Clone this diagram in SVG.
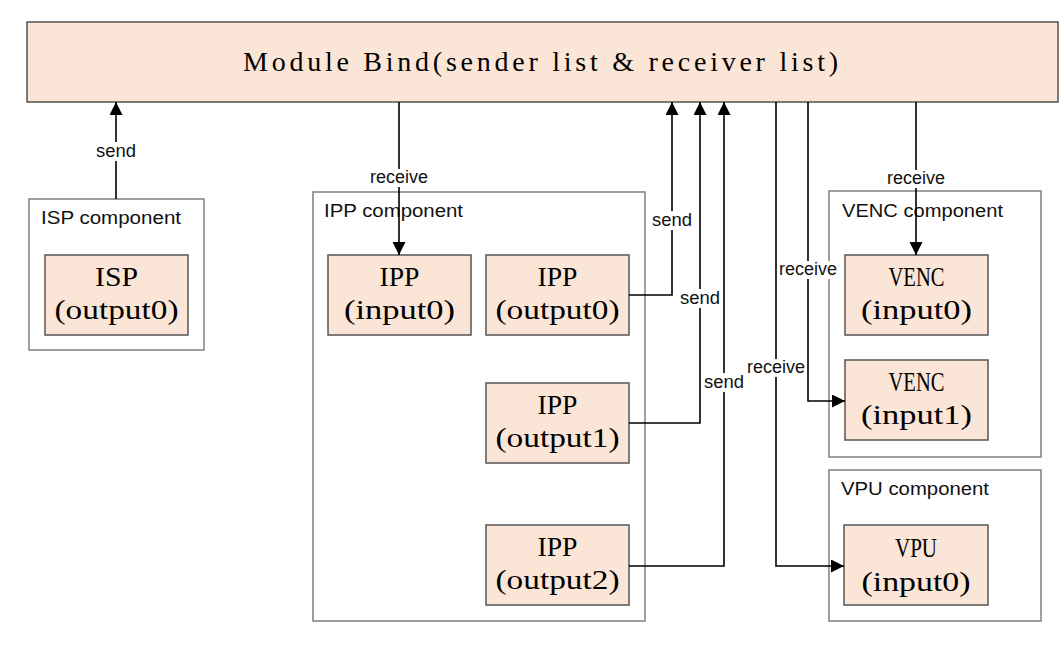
<svg xmlns="http://www.w3.org/2000/svg" width="1064" height="646" viewBox="0 0 1064 646">
<defs>
<marker id="arr" markerUnits="userSpaceOnUse" markerWidth="14" markerHeight="14" refX="13" refY="6.5" orient="auto">
<path d="M0,0 L13,6.5 L0,13 Z" fill="#000"/>
</marker>
<style>
.bind{fill:#FBE5D6;stroke:#3a3a3a;stroke-width:1.3}
.comp{fill:#fff;stroke:#808080;stroke-width:1.5}
.node{fill:#FBE5D6;stroke:#555;stroke-width:1.5}
.ct{font-family:"Liberation Sans",Arial,sans-serif;font-size:18px;fill:#111}
.nt{font-family:"Liberation Serif","Times New Roman",serif;font-size:27px;fill:#000;text-anchor:middle}
.tt{font-family:"Liberation Serif","Times New Roman",serif;font-size:28px;fill:#000;text-anchor:middle}
.lbl{font-family:"Liberation Sans",Arial,sans-serif;font-size:17.5px;fill:#111;text-anchor:middle}
.ln{fill:none;stroke:#000;stroke-width:1.6}
.bg{fill:#fff}
</style>
</defs>
<rect width="1064" height="646" fill="#fff"/>

<g id="module-bind">
<rect class="bind" x="27" y="22" width="1031" height="80"/>
<text class="tt" x="540.5" y="71" textLength="595" lengthAdjust="spacing">Module Bind(sender list &amp; receiver list)</text>
</g>

<g id="isp-component">
<rect class="comp" x="29" y="199" width="175" height="151"/>
<text class="ct" x="41" y="224" textLength="140" lengthAdjust="spacingAndGlyphs">ISP component</text>
</g>
<g id="isp-output0">
<rect class="node" x="45" y="255" width="143" height="80"/>
<text class="nt" x="116.5" y="286" textLength="43" lengthAdjust="spacingAndGlyphs">ISP</text>
<text class="nt" x="116.5" y="319" textLength="124" lengthAdjust="spacingAndGlyphs">(output0)</text>
</g>

<g id="ipp-component">
<rect class="comp" x="313" y="192" width="332" height="429"/>
<text class="ct" x="324" y="217" textLength="139" lengthAdjust="spacingAndGlyphs">IPP component</text>
</g>
<g id="ipp-input0">
<rect class="node" x="328" y="255" width="143" height="80"/>
<text class="nt" x="399.5" y="286" textLength="40" lengthAdjust="spacingAndGlyphs">IPP</text>
<text class="nt" x="399.5" y="319" textLength="111" lengthAdjust="spacingAndGlyphs">(input0)</text>
</g>
<g id="ipp-output0">
<rect class="node" x="486" y="255" width="143" height="80"/>
<text class="nt" x="557.5" y="286" textLength="40" lengthAdjust="spacingAndGlyphs">IPP</text>
<text class="nt" x="557.5" y="319" textLength="124" lengthAdjust="spacingAndGlyphs">(output0)</text>
</g>
<g id="ipp-output1">
<rect class="node" x="486" y="383" width="143" height="80"/>
<text class="nt" x="557.5" y="414" textLength="40" lengthAdjust="spacingAndGlyphs">IPP</text>
<text class="nt" x="557.5" y="447" textLength="124" lengthAdjust="spacingAndGlyphs">(output1)</text>
</g>
<g id="ipp-output2">
<rect class="node" x="486" y="525" width="143" height="80"/>
<text class="nt" x="557.5" y="556" textLength="40" lengthAdjust="spacingAndGlyphs">IPP</text>
<text class="nt" x="557.5" y="589" textLength="124" lengthAdjust="spacingAndGlyphs">(output2)</text>
</g>

<g id="venc-component">
<rect class="comp" x="829" y="191" width="212" height="266"/>
<text class="ct" x="842" y="217" textLength="161" lengthAdjust="spacingAndGlyphs">VENC component</text>
</g>
<g id="venc-input0">
<rect class="node" x="845" y="255" width="143" height="80"/>
<text class="nt" x="916.5" y="286" textLength="56" lengthAdjust="spacingAndGlyphs">VENC</text>
<text class="nt" x="916.5" y="319" textLength="111" lengthAdjust="spacingAndGlyphs">(input0)</text>
</g>
<g id="venc-input1">
<rect class="node" x="845" y="360" width="143" height="80"/>
<text class="nt" x="916.5" y="391" textLength="56" lengthAdjust="spacingAndGlyphs">VENC</text>
<text class="nt" x="916.5" y="424" textLength="111" lengthAdjust="spacingAndGlyphs">(input1)</text>
</g>

<g id="vpu-component">
<rect class="comp" x="829" y="470" width="212" height="151"/>
<text class="ct" x="841" y="495" textLength="148" lengthAdjust="spacingAndGlyphs">VPU component</text>
</g>
<g id="vpu-input0">
<rect class="node" x="844" y="525" width="144" height="80"/>
<text class="nt" x="916" y="557" textLength="42" lengthAdjust="spacingAndGlyphs">VPU</text>
<text class="nt" x="916" y="591" textLength="109" lengthAdjust="spacingAndGlyphs">(input0)</text>
</g>

<g id="connectors">
<path class="ln" d="M116,199 V102" marker-end="url(#arr)"/>
<path class="ln" d="M399,102 V255" marker-end="url(#arr)"/>
<path class="ln" d="M629,295 H672 V102" marker-end="url(#arr)"/>
<path class="ln" d="M629,423 H700 V102" marker-end="url(#arr)"/>
<path class="ln" d="M629,566 H724 V102" marker-end="url(#arr)"/>
<path class="ln" d="M776,102 V566 H844" marker-end="url(#arr)"/>
<path class="ln" d="M808,102 V401 H845" marker-end="url(#arr)"/>
<path class="ln" d="M916,102 V255" marker-end="url(#arr)"/>

<rect class="bg" x="95" y="142" width="42" height="19"/>
<text class="lbl" x="116" y="157" textLength="40" lengthAdjust="spacingAndGlyphs">send</text>
<rect class="bg" x="369" y="169" width="60" height="18"/>
<text class="lbl" x="399" y="183" textLength="58" lengthAdjust="spacingAndGlyphs">receive</text>
<rect class="bg" x="651" y="211" width="42" height="19"/>
<text class="lbl" x="672" y="226" textLength="40" lengthAdjust="spacingAndGlyphs">send</text>
<rect class="bg" x="679" y="289" width="42" height="19"/>
<text class="lbl" x="700" y="304" textLength="40" lengthAdjust="spacingAndGlyphs">send</text>
<rect class="bg" x="703" y="373" width="42" height="19"/>
<text class="lbl" x="724" y="388" textLength="40" lengthAdjust="spacingAndGlyphs">send</text>
<rect class="bg" x="747" y="359" width="59" height="18"/>
<text class="lbl" x="776" y="373" textLength="58" lengthAdjust="spacingAndGlyphs">receive</text>
<rect class="bg" x="779" y="261" width="59" height="18"/>
<text class="lbl" x="808" y="275" textLength="58" lengthAdjust="spacingAndGlyphs">receive</text>
<rect class="bg" x="887" y="170" width="59" height="18"/>
<text class="lbl" x="916" y="184" textLength="58" lengthAdjust="spacingAndGlyphs">receive</text>
</g>
</svg>
